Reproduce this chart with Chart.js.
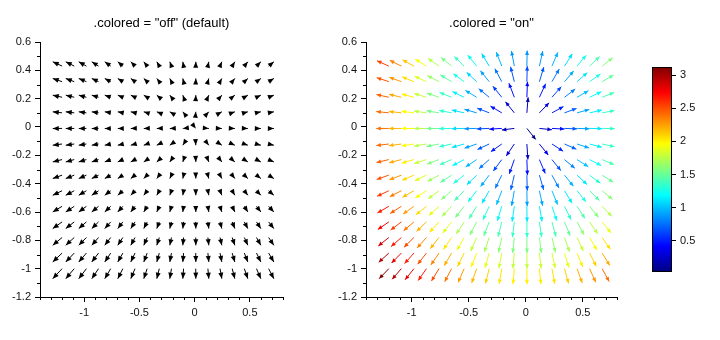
<!DOCTYPE html>
<html>
<head>
<meta charset="utf-8">
<script src="https://cdn.jsdelivr.net/npm/chart.js@4.4.1/dist/chart.umd.min.js"></script>
<style>
  body { margin: 0; background: #fff; }
  #wrap { position: relative; width: 720px; height: 340px; }
  canvas { position: absolute; top: 0; }
</style>
</head>
<body>
<div id="wrap">
  <canvas id="plotOff" width="330" height="340" style="left:0"></canvas>
  <canvas id="plotOn" width="330" height="340" style="left:326px"></canvas>
  <canvas id="colorbar" width="80" height="340" style="left:640px"></canvas>
</div>
<script>
// grid of arrow tails
var gridX = [-1.2, -1.09, -0.98, -0.87, -0.76, -0.65, -0.54, -0.43, -0.32, -0.21, -0.1, 0.01, 0.12, 0.23, 0.34, 0.45, 0.56, 0.67];
var gridY = [-1.0, -0.89, -0.78, -0.67, -0.56, -0.45, -0.34, -0.23, -0.12, -0.01, 0.1, 0.21, 0.32, 0.43];
// field components: fx per column, fy per row
var fieldU = [-2.4, -2.18, -1.96, -1.74, -1.52, -1.3, -1.08, -0.86, -0.64, -0.42, -0.2, 0.02, 0.24, 0.46, 0.68, 0.9, 1.12, 1.34];
var fieldV = [-2.0, -1.78, -1.56, -1.34, -1.12, -0.9, -0.68, -0.46, -0.24, -0.02, 0.2, 0.42, 0.64, 0.86];

var xTicks = [-1, -0.5, 0, 0.5];
var yTicks = [-1.2, -1, -0.8, -0.6, -0.4, -0.2, 0, 0.2, 0.4, 0.6];
var barTicks = [0.5, 1, 1.5, 2, 2.5, 3];
var titles = ['.colored = "off" (default)', '.colored = "on"'];

var cell = 0.11;
var FONT = "'Liberation Sans', Arial, sans-serif";

var points = [];
for (var i = 0; i < gridY.length; i++) {
    for (var j = 0; j < gridX.length; j++) {
        points.push({ x: gridX[j], y: gridY[i], u: fieldU[j], v: fieldV[i] });
    }
}
var norms = points.map(function (p) { return Math.hypot(p.u, p.v); });
var nMin = Math.min.apply(null, norms);
var nMax = Math.max.apply(null, norms);

function jet(t) {
    t = Math.max(0, Math.min(1, t));
    var c = function (s) { return Math.round(255 * Math.max(0, Math.min(1, 1.5 - Math.abs(4 * t - s)))); };
    return 'rgb(' + c(3) + ',' + c(2) + ',' + c(1) + ')';
}

function fmt(v) {
    return String(Math.round(v * 100) / 100);
}

var arrowPlugin = {
    id: 'arrows',
    afterDatasetsDraw: function (chart, args, opts) {
        var ctx = chart.ctx;
        var sx = chart.scales.x, sy = chart.scales.y;
        ctx.save();
        ctx.lineWidth = 1;
        chart.data.datasets[0].data.forEach(function (p) {
            var n = Math.hypot(p.u, p.v);
            var k = opts.colored ? cell / n : cell / nMax;
            var x0 = sx.getPixelForValue(p.x), y0 = sy.getPixelForValue(p.y);
            var x1 = sx.getPixelForValue(p.x + p.u * k), y1 = sy.getPixelForValue(p.y + p.v * k);
            var col = opts.colored ? jet((n - nMin) / (nMax - nMin)) : '#000';
            var dx = x1 - x0, dy = y1 - y0, L = Math.hypot(dx, dy) || 1;
            var ux = dx / L, uy = dy / L;
            var bx = x1 - ux * opts.head, by = y1 - uy * opts.head;
            ctx.strokeStyle = col;
            ctx.fillStyle = col;
            ctx.beginPath();
            ctx.moveTo(x0, y0);
            ctx.lineTo(x1, y1);
            ctx.stroke();
            ctx.beginPath();
            ctx.moveTo(x1, y1);
            ctx.lineTo(bx - uy * opts.half, by + ux * opts.half);
            ctx.lineTo(bx + uy * opts.half, by - ux * opts.half);
            ctx.closePath();
            ctx.fill();
        });
        ctx.restore();
    }
};

// short ticks every 0.1 between the labelled ones
var minorTicks = {
    id: 'minorTicks',
    afterDraw: function (chart) {
        var ctx = chart.ctx, a = chart.chartArea;
        var sx = chart.scales.x, sy = chart.scales.y;
        ctx.save();
        ctx.strokeStyle = '#000';
        ctx.lineWidth = 1;
        ctx.beginPath();
        for (var v = Math.round(sx.min * 10); v <= Math.round(sx.max * 10); v++) {
            if (xTicks.some(function (t) { return Math.abs(t * 10 - v) < 1e-6; })) continue;
            var px = Math.round(sx.getPixelForValue(v / 10)) + 0.5;
            ctx.moveTo(px, a.bottom);
            ctx.lineTo(px, a.bottom + 3);
        }
        for (var w = Math.round(sy.min * 10); w <= Math.round(sy.max * 10); w++) {
            if (yTicks.some(function (t) { return Math.abs(t * 10 - w) < 1e-6; })) continue;
            var py = Math.round(sy.getPixelForValue(w / 10)) + 0.5;
            ctx.moveTo(a.left, py);
            ctx.lineTo(a.left - 3, py);
        }
        ctx.stroke();
        ctx.restore();
    }
};

function axisStyle() {
    return {
        grid: { display: true, drawOnChartArea: false, drawTicks: true, tickLength: 5, color: '#000' },
        border: { display: true, color: '#000', width: 1 },
        ticks: { color: '#111', font: { family: FONT, size: 11 }, padding: 4, autoSkip: false, maxRotation: 0, callback: fmt }
    };
}

function fieldChart(id, title, colored, padRight) {
    var xs = axisStyle(), ys = axisStyle();
    xs.min = -1.4; xs.max = 0.8;
    xs.afterBuildTicks = function (s) { s.ticks = xTicks.map(function (v) { return { value: v }; }); };
    xs.afterFit = function (s) { s.height = 43; };
    ys.min = -1.2; ys.max = 0.6;
    ys.afterBuildTicks = function (s) { s.ticks = yTicks.map(function (v) { return { value: v }; }); };
    ys.afterFit = function (s) { s.width = 40; };

    return new Chart(document.getElementById(id), {
        type: 'scatter',
        data: { datasets: [{ data: points, pointRadius: 0, pointHoverRadius: 0 }] },
        options: {
            responsive: false,
            animation: false,
            devicePixelRatio: 1,
            layout: { padding: { left: 0, right: padRight, top: 0, bottom: 0 } },
            scales: { x: xs, y: ys },
            plugins: {
                legend: { display: false },
                tooltip: { enabled: false },
                title: {
                    display: true, text: title, fullSize: false, color: '#000',
                    font: { family: FONT, size: 13, weight: 'normal', lineHeight: 1.2 },
                    padding: { top: 16, bottom: 10.4 }
                },
                arrows: colored ? { colored: true, head: 4.5, half: 2 } : { colored: false, head: 6, half: 2.5 }
            }
        },
        plugins: [arrowPlugin, minorTicks]
    });
}

fieldChart('plotOff', titles[0], false, 47);
fieldChart('plotOn', titles[1], true, 39);

var colorbarFill = {
    id: 'colorbarFill',
    beforeDatasetsDraw: function (chart) {
        var ctx = chart.ctx, a = chart.chartArea;
        var g = ctx.createLinearGradient(0, a.bottom, 0, a.top);
        for (var s = 0; s <= 64; s++) g.addColorStop(s / 64, jet(s / 64));
        ctx.save();
        ctx.fillStyle = g;
        ctx.fillRect(a.left, a.top, a.right - a.left, a.bottom - a.top);
        ctx.strokeStyle = '#000';
        ctx.lineWidth = 1;
        ctx.strokeRect(Math.round(a.left) + 0.5, Math.round(a.top) + 0.5, Math.round(a.right - a.left) - 1, Math.round(a.bottom - a.top) - 1);
        ctx.restore();
    }
};

new Chart(document.getElementById('colorbar'), {
    type: 'scatter',
    data: { datasets: [{ data: [], pointRadius: 0 }] },
    options: {
        responsive: false,
        animation: false,
        devicePixelRatio: 1,
        layout: { padding: { left: 12, right: 0, top: 67, bottom: 68 } },
        scales: {
            x: { display: false },
            y: {
                position: 'right',
                min: nMin, max: nMax,
                afterBuildTicks: function (s) { s.ticks = barTicks.map(function (v) { return { value: v }; }); },
                afterFit: function (s) { s.width = 48; },
                grid: { display: true, drawOnChartArea: false, drawTicks: true, tickLength: 4, color: '#000' },
                border: { display: false },
                ticks: { color: '#111', font: { family: FONT, size: 11 }, padding: 4, callback: fmt }
            }
        },
        plugins: { legend: { display: false }, tooltip: { enabled: false } }
    },
    plugins: [colorbarFill]
});
</script>
</body>
</html>
